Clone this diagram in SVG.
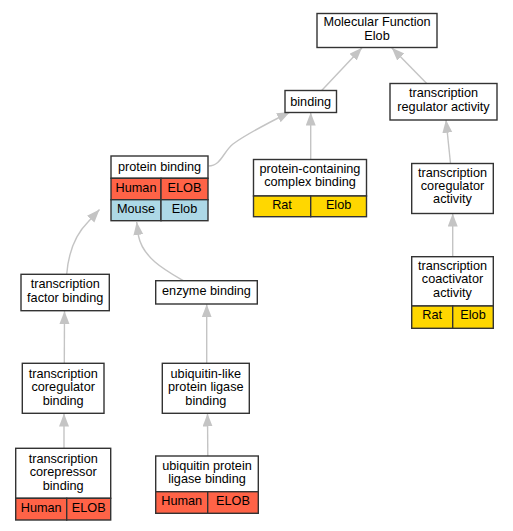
<svg xmlns="http://www.w3.org/2000/svg" width="513" height="531" viewBox="0 0 513 531">
<style>
text{font-family:"Liberation Sans",Arial,sans-serif;font-size:12.7px;fill:#000;text-anchor:middle}
.box{fill:#fff;stroke:#333;stroke-width:1.4}
.hu{fill:#ff6347;stroke:#333;stroke-width:1.4}
.mo{fill:#add8e6;stroke:#333;stroke-width:1.4}
.ra{fill:#ffd700;stroke:#333;stroke-width:1.4}
.e{fill:none;stroke:#c4c4c4;stroke-width:1.4;marker-end:url(#ah)}
</style>
<defs>
<marker id="ah" markerUnits="userSpaceOnUse" markerWidth="14" markerHeight="11" refX="13" refY="5" orient="auto" viewBox="0 0 14 11">
<path d="M0,0 L13,5 L0,10 z" fill="#c4c4c4"/>
</marker>
</defs>
<g id="edges">
<path class="e" d="M321.7,90.5 L362,47.7"/>
<path class="e" d="M426.7,83.5 L391.7,47.7"/>
<path class="e" d="M208.5,166 C221,166 223,152 233,144 C248,133 268,123 290,112"/>
<path class="e" d="M310.7,159.5 L310.7,112.5"/>
<path class="e" d="M450.5,163.5 L446,119.8"/>
<path class="e" d="M452.7,256.7 L452.7,213.5"/>
<path class="e" d="M66.7,274.3 C68,258 72,238 88,222 L99.5,209.5"/>
<path class="e" d="M183.3,280.7 C165,270 143,258 138.5,236 L136.7,222"/>
<path class="e" d="M64.3,363.3 L64.5,311"/>
<path class="e" d="M206.7,363.3 L206.7,304.3"/>
<path class="e" d="M64,448.3 L64,413.5"/>
<path class="e" d="M207.8,456 L207.5,413.5"/>
</g>
<g id="mf">
<rect class="box" x="317" y="13.5" width="120" height="34"/>
<text x="377" y="26">Molecular Function</text>
<text x="377" y="39.5">Elob</text>
</g>
<g id="binding">
<rect class="box" x="285" y="90.5" width="51.5" height="22"/>
<text x="310.7" y="105.5">binding</text>
</g>
<g id="tra">
<rect class="box" x="390" y="83.5" width="107" height="36.5"/>
<text x="443.5" y="97">transcription</text>
<text x="443.5" y="110.7">regulator activity</text>
</g>
<g id="pb">
<rect class="box" x="111" y="156" width="97" height="22.3"/>
<text x="159.5" y="170.8">protein binding</text>
<rect class="hu" x="111" y="178.3" width="50" height="21.4"/>
<rect class="hu" x="161" y="178.3" width="47" height="21.4"/>
<text x="136" y="191.8">Human</text>
<text x="184.5" y="191.8">ELOB</text>
<rect class="mo" x="111" y="199.7" width="50" height="21"/>
<rect class="mo" x="161" y="199.7" width="47" height="21"/>
<text x="136" y="212.8">Mouse</text>
<text x="184.5" y="212.8">Elob</text>
</g>
<g id="pccb">
<rect class="box" x="253.5" y="159.5" width="113" height="36.5"/>
<text x="310" y="173.3">protein-containing</text>
<text x="310" y="186.3">complex binding</text>
<rect class="ra" x="253.5" y="196" width="57.2" height="20.7"/>
<rect class="ra" x="310.7" y="196" width="55.8" height="20.7"/>
<text x="282" y="209.2">Rat</text>
<text x="338.6" y="209.2">Elob</text>
</g>
<g id="tcact">
<rect class="box" x="411.7" y="163.5" width="81.6" height="50"/>
<text x="452.5" y="176.7">transcription</text>
<text x="452.5" y="190">coregulator</text>
<text x="452.5" y="203.3">activity</text>
</g>
<g id="tcoact">
<rect class="box" x="411.7" y="256.7" width="81.6" height="49.3"/>
<text x="452.5" y="270">transcription</text>
<text x="452.5" y="283.4">coactivator</text>
<text x="452.5" y="296.7">activity</text>
<rect class="ra" x="411.7" y="306" width="41" height="22.3"/>
<rect class="ra" x="452.7" y="306" width="40.6" height="22.3"/>
<text x="432.2" y="318.8">Rat</text>
<text x="473" y="318.8">Elob</text>
</g>
<g id="tfb">
<rect class="box" x="21" y="274.3" width="88.3" height="36.4"/>
<text x="65.2" y="288.3">transcription</text>
<text x="65.2" y="301.7">factor binding</text>
</g>
<g id="eb">
<rect class="box" x="155.7" y="280.7" width="101.6" height="23.3"/>
<text x="206.5" y="295.3">enzyme binding</text>
</g>
<g id="tcb">
<rect class="box" x="22.3" y="363.3" width="81.7" height="50"/>
<text x="63.2" y="378.3">transcription</text>
<text x="63.2" y="391.2">coregulator</text>
<text x="63.2" y="404.5">binding</text>
</g>
<g id="ulplb">
<rect class="box" x="162.3" y="363.3" width="87" height="50"/>
<text x="205.8" y="378.3">ubiquitin-like</text>
<text x="205.8" y="391.2">protein ligase</text>
<text x="205.8" y="404.5">binding</text>
</g>
<g id="tcrb">
<rect class="box" x="15.7" y="448.3" width="95" height="50"/>
<text x="63.2" y="462.7">transcription</text>
<text x="63.2" y="476.4">corepressor</text>
<text x="63.2" y="490">binding</text>
<rect class="hu" x="15.7" y="498.3" width="51" height="21.7"/>
<rect class="hu" x="66.7" y="498.3" width="44" height="21.7"/>
<text x="41.2" y="511.7">Human</text>
<text x="88.7" y="511.7">ELOB</text>
</g>
<g id="uplb">
<rect class="box" x="155.7" y="456" width="102.6" height="35.7"/>
<text x="207" y="470">ubiquitin protein</text>
<text x="207" y="482.8">ligase binding</text>
<rect class="hu" x="155.7" y="491.7" width="52" height="21.6"/>
<rect class="hu" x="207.7" y="491.7" width="50.6" height="21.6"/>
<text x="181.7" y="505">Human</text>
<text x="233" y="505">ELOB</text>
</g>
</svg>
